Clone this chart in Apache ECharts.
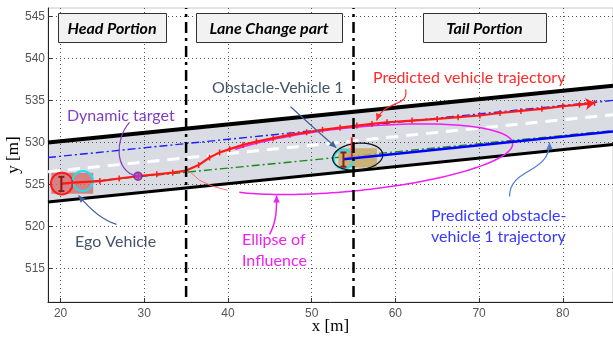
<!DOCTYPE html>
<html><head><meta charset="utf-8">
<script src="https://cdn.jsdelivr.net/npm/echarts@6/dist/echarts.min.js"></script>
<style>html,body{margin:0;padding:0;background:#fff}#c{width:613px;height:339px}</style>
</head><body><div id="c"></div>
<script>
// ---- data (metres) ----
const xTicks = [20, 30, 40, 50, 60, 70, 80];
const yTicks = [515, 520, 525, 530, 535, 540, 545];
const roadUpper = [[18.5, 530.0], [86, 536.75]];
const roadLower = [[18.5, 522.9], [86, 529.76]];
const laneCenter = [[18.5, 526.5], [86, 533.3]];
const upperLaneRef = [[18.5, 528.2], [86, 535.0]];
const lowerLaneRef = [[20, 525.0], [86, 531.4]];
const obstaclePred = [[53.8, 528.0], [86, 531.3]];
const egoTraj = [[20.1,525.1],[21.4,525.2],[24.7,525.4],[27.0,525.7],[29.3,526.0],[31.5,526.2],[33.4,526.4],[35,526.65],[36.5,527.3],[37.8,528.2],[39.0,528.8],[40.2,529.2],[41.8,529.7],[43.4,530.1],[45.4,530.5],[47.4,530.9],[49.4,531.2],[51.3,531.5],[53.4,531.75],[55.4,532.0],[57.2,532.2],[59,532.4],[62,532.6],[65,532.8],[67.5,533.0],[70.1,533.2],[72.5,533.5],[75,533.75],[77.5,534.0],[80,534.3],[82,534.5],[83.8,534.7]];
const sectionLines = [35, 55];
const dynamicTarget = [29.25, 525.98];
const egoZoneArc = [[35.4,526.55],[36.6,525.5],[38.2,524.76],[39.95,524.3]];
const obstacleHeading = [[54.8, 528.2], [54.8, 530.6]];
// ellipses: centre x, centre y, semi-major, semi-minor, slope, start deg, end deg
const influenceEllipse = [55, 528, 19.1, 3.77, 0.1, 223, 497];
const obstacleEllipse = [55.5, 528.3, 3.0, 1.6, 0.1, 0, 360];
// bodies: x1, y1, x2, y2
const egoBody = [18.9, 523.9, 23.9, 526.4];
const obstacleBody = [53.2, 527.0, 57.8, 529.3];
// circles: cx, cy, r
const egoCircle = [20.15, 525.1, 1.3];
const egoCircle2 = [22.66, 525.4, 1.2];
const obstacleCircle = [53.8, 528.0, 1.15];
// axle glyphs: x, y1, y2
const egoAxle = [20.1, 524.2, 525.9];
const obstacleAxle = [53.8, 527.1, 528.8];
// annotation arrows (bezier p0, c1, c2, p3)
const arrowDyn = [[28.24,532.38],[26.45,530.36],[26.45,526.55],[29.1,526.0]];
const arrowObst = [[47.48,534.25],[49.3,532.6],[51.2,530.9],[52.94,529.37]];
const arrowPredVeh = [[61.22,536.31],[61.7,534.17],[58.7,535.1],[57.75,532.6]];
const arrowEgo = [[26.69,520.24],[24.66,520.83],[23.23,522.38],[22.15,523.69]];
const arrowEll = [[44.97,519.05],[45.81,520.6],[45.81,522.0],[45.81,523.69]];
const arrowObstPred = [[73.64,523.57],[73.64,527.02],[78.42,526.19],[78.42,530.0]];

const TXT = "Lato, 'Open Sans', sans-serif";
const chart = echarts.init(document.getElementById('c'));

function ellipsePts(api, e) {
  const [cx, cy, a, b, k, t0, t1] = e;
  const c = 1 / Math.sqrt(1 + k * k), s = k * c;
  const pts = [];
  for (let t = t0; t <= t1 + 0.001; t += 2) {
    const r = t * Math.PI / 180, u = a * Math.cos(r), v = b * Math.sin(r);
    pts.push(api.coord([cx + u * c - v * s, cy + u * s + v * c]));
  }
  return pts;
}
function lineSeries(data, color, width, type, z) {
  return { type: 'line', data, showSymbol: false, symbol: 'none', silent: true, z,
    lineStyle: { color, width, type }, animation: false };
}
function custom(render, z, anchor) {
  return { type: 'custom', coordinateSystem: 'cartesian2d', data: [anchor || [50, 530]], z, silent: true,
    animation: false, clip: true, renderItem: (p, api) => render(api) };
}
function arrowShape(api, a, color, head, width) {
  const p = a.map(q => api.coord(q));
  const ch = [{ type: 'bezierCurve', shape: { x1: p[0][0], y1: p[0][1], cpx1: p[1][0], cpy1: p[1][1],
    cpx2: p[2][0], cpy2: p[2][1], x2: p[3][0], y2: p[3][1] }, style: { stroke: color, lineWidth: width || 1.2, fill: null } }];
  if (head) {
    const dx = p[3][0] - p[2][0], dy = p[3][1] - p[2][1], L = Math.hypot(dx, dy) || 1;
    const ux = dx / L, uy = dy / L, len = 7, hw = 3.2;
    const bx = p[3][0] - ux * len, by = p[3][1] - uy * len;
    ch.push({ type: 'polygon', shape: { points: [[p[3][0], p[3][1]], [bx - uy * hw, by + ux * hw], [bx + uy * hw, by - ux * hw]] },
      style: { fill: color } });
  }
  return { type: 'group', children: ch };
}
function rectShape(api, r, fill) {
  const a = api.coord([r[0], r[3]]), b = api.coord([r[2], r[1]]);
  return { type: 'rect', shape: { x: a[0], y: a[1], width: b[0] - a[0], height: b[1] - a[1] }, style: { fill } };
}
function circleShape(api, c, stroke, w) {
  const p = api.coord([c[0], c[1]]), s = api.size([c[2], c[2]]);
  return { type: 'circle', shape: { cx: p[0], cy: p[1], r: (s[0] + s[1]) / 2 }, style: { stroke, lineWidth: w, fill: null } };
}
function axleShape(api, g, color) {
  const t = api.coord([g[0], g[2]]), b = api.coord([g[0], g[1]]);
  return { type: 'group', children: [
    { type: 'line', shape: { x1: t[0], y1: t[1], x2: b[0], y2: b[1] }, style: { stroke: color, lineWidth: 2 } },
    { type: 'line', shape: { x1: t[0] - 3, y1: t[1], x2: t[0] + 3, y2: t[1] }, style: { stroke: color, lineWidth: 2 } },
    { type: 'line', shape: { x1: b[0] - 3, y1: b[1], x2: b[0] + 3, y2: b[1] }, style: { stroke: color, lineWidth: 2 } }
  ] };
}

const sectionSeries = sectionLines.map(x => lineSeries([[x, 511.6], [x, 546]], '#000', 2.5, [11, 5, 3, 5], 9));

const boxes = [
  { x: 58, w: 108, t: 'Head Portion' },
  { x: 196, w: 146, t: 'Lane Change part' },
  { x: 423, w: 123, t: 'Tail Portion' }
];
const graphics = [];
boxes.forEach(b => {
  graphics.push({ type: 'rect', shape: { x: b.x + 0.5, y: 13.5, width: b.w, height: 29 }, style: { fill: '#f2f2f2', stroke: '#333', lineWidth: 1 }, z: 100 });
  graphics.push({ type: 'text', x: b.x + b.w / 2, y: 28.5, z: 101, style: { text: b.t, fill: '#000', font: "italic bold 16px " + TXT, textAlign: 'center', textVerticalAlign: 'middle' } });
});
const notes = [
  { t: 'Dynamic target', x: 67, y: 116, c: '#7f3fbf' },
  { t: 'Obstacle-Vehicle 1', x: 212, y: 88, c: '#44546a' },
  { t: 'Predicted vehicle trajectory', x: 373, y: 78, c: '#ff2a2a' },
  { t: 'Ego Vehicle', x: 75, y: 242, c: '#44546a' },
  { t: 'Ellipse of', x: 242, y: 240, c: '#f020f0' },
  { t: 'Influence', x: 242, y: 261, c: '#f020f0' },
  { t: 'Predicted obstacle-', x: 431, y: 216, c: '#3838ff' },
  { t: 'vehicle 1 trajectory', x: 431, y: 237, c: '#3838ff' }
];
notes.forEach(n => graphics.push({ type: 'text', x: n.x, y: n.y, z: 100, style: { text: n.t, fill: n.c, font: "16px " + TXT, textAlign: 'left', textVerticalAlign: 'middle' } }));

const option = {
  animation: false,
  grid: { left: 48, right: 0, top: 8, bottom: 37, show: true, borderColor: '#c8c8c8', borderWidth: 1, outerBoundsMode: 'none' },
  xAxis: { type: 'value', min: 18.5, max: 86, splitNumber: 7, z: 1.5,
    name: 'x [m]', nameLocation: 'middle', nameGap: 16, nameMoveOverlap: false,
    nameTextStyle: { fontFamily: "'Liberation Serif', 'DejaVu Serif', serif", fontSize: 17, color: '#000' },
    axisLine: { lineStyle: { color: '#222', width: 1 } },
    axisTick: { inside: true, length: 4, lineStyle: { color: '#333' }, customValues: xTicks },
    axisLabel: { customValues: xTicks, color: '#555', fontSize: 12, fontFamily: "'Liberation Sans', Arial, sans-serif", margin: 6 },
    splitLine: { show: true, lineStyle: { color: '#555', type: [1, 3], width: 1 } } },
  yAxis: { type: 'value', min: 511, max: 546, splitNumber: 7, z: 1.5,
    name: 'y [m]', nameLocation: 'middle', nameGap: 26, nameMoveOverlap: false,
    nameTextStyle: { fontFamily: "'Liberation Serif', 'DejaVu Serif', serif", fontSize: 17, color: '#000' },
    axisLine: { show: true, lineStyle: { color: '#222', width: 1 } },
    axisTick: { show: true, inside: true, length: 4, lineStyle: { color: '#333' }, customValues: yTicks },
    axisLabel: { customValues: yTicks, color: '#555', fontSize: 12, fontFamily: "'Liberation Sans', Arial, sans-serif", margin: 3 },
    splitLine: { show: true, lineStyle: { color: '#555', type: [1, 3], width: 1 } } },
  graphic: graphics,
  series: [
    custom(api => ({ type: 'polygon', shape: { points: [api.coord(roadUpper[0]), api.coord(roadUpper[1]), api.coord(roadLower[1]), api.coord(roadLower[0])] },
      style: { fill: '#d9dce3' } }), 1),
    lineSeries(laneCenter, '#ffffff', 3, [12, 8], 2),
    lineSeries(roadUpper, '#000', 4, 'solid', 3),
    lineSeries(roadLower, '#000', 3, 'solid', 3),
    lineSeries(upperLaneRef, '#1f1fff', 1.4, [8, 3, 2, 3], 3),
    lineSeries(lowerLaneRef, '#1a8a1a', 1.4, [8, 3, 2, 3], 3),
    custom(api => ({ type: 'polyline', shape: { points: ellipsePts(api, influenceEllipse) }, style: { stroke: '#f01ef0', lineWidth: 1.5, fill: null } }), 4),
    lineSeries(egoZoneArc, '#ff7070', 1, 'solid', 4),
    custom(api => ({ type: 'group', children: [rectShape(api, egoBody, 'rgba(214,110,108,0.82)'), rectShape(api, obstacleBody, 'rgba(196,170,100,0.85)')] }), 5),
    lineSeries(obstaclePred, '#0000ff', 2.5, 'solid', 6),
    custom(api => ({ type: 'group', children: [
      circleShape(api, egoCircle, '#ff1a1a', 2), circleShape(api, egoCircle2, '#20e0f0', 2),
      circleShape(api, obstacleCircle, '#20e0f0', 2),
      { type: 'polyline', shape: { points: ellipsePts(api, obstacleEllipse) }, style: { stroke: '#111', lineWidth: 1.3, fill: null } }
    ] }), 6),
    { type: 'line', data: egoTraj, z: 7, silent: true, animation: false, showSymbol: true,
      symbol: 'path://M0,0H1V6H0Z', symbolSize: [1.5, 6], itemStyle: { color: '#ff1a1a' },
      lineStyle: { color: '#ff1a1a', width: 2.2 },
      markLine: { silent: true, symbol: ['none', 'arrow'], symbolSize: 9, label: { show: false },
        lineStyle: { color: '#ff1a1a', width: 2, type: 'solid' },
        data: [[{ coord: egoTraj[egoTraj.length - 2] }, { coord: egoTraj[egoTraj.length - 1] }]] } },
    lineSeries(obstacleHeading, '#ff1a1a', 2, 'solid', 7),
    custom(api => ({ type: 'group', children: [axleShape(api, egoAxle, '#8b1c1c'), axleShape(api, obstacleAxle, '#8b1c1c')] }), 8),
    { type: 'scatter', data: [dynamicTarget], z: 8, silent: true, animation: false, symbolSize: 8,
      itemStyle: { color: '#b040c0', borderColor: '#7a2090', borderWidth: 1.5 } },
    ...sectionSeries,
    custom(api => ({ type: 'group', children: [
      arrowShape(api, arrowDyn, '#7f3fbf', false, 1.2),
      arrowShape(api, arrowObst, '#41609e', true, 1.2),
      arrowShape(api, arrowPredVeh, '#ff2a2a', true, 1.2),
      arrowShape(api, arrowEgo, '#41609e', true, 1.2),
      arrowShape(api, arrowEll, '#f020f0', true, 1.5),
      arrowShape(api, arrowObstPred, '#4d7bd0', true, 1.2)
    ] }), 10)
  ]
};
chart.setOption(option);
</script></body></html>
